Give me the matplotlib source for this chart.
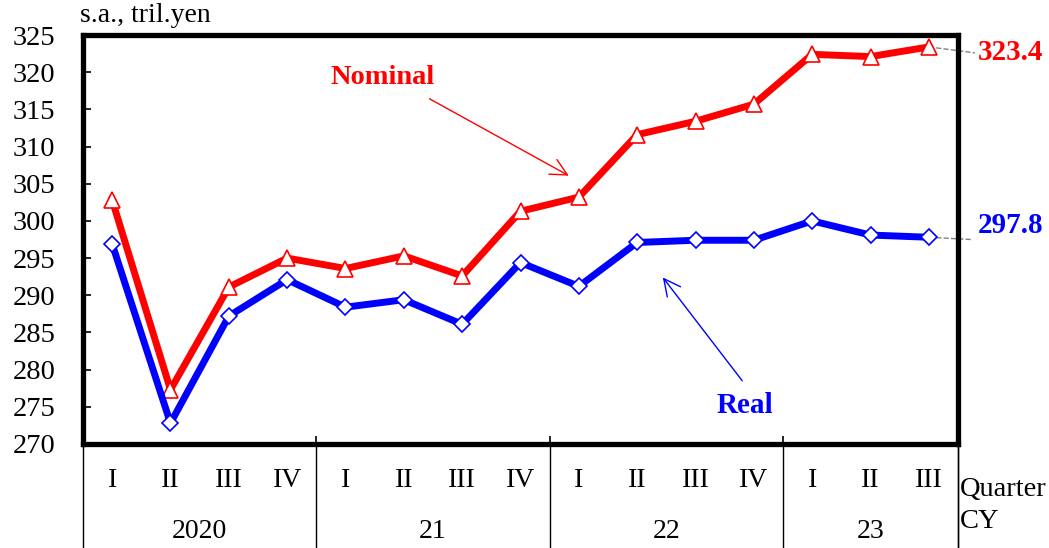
import numpy as np
import matplotlib.pyplot as plt

plt.rcParams['font.family'] = ['Liberation Serif', 'DejaVu Serif']

# Quarterly GDP, seasonally adjusted, trillion yen
quarters = ['I', 'II', 'III', 'IV', 'I', 'II', 'III', 'IV',
            'I', 'II', 'III', 'IV', 'I', 'II', 'III']
years = ['2020', '21', '22', '23']
year_lengths = [4, 4, 4, 3]
nominal = [302.8, 277.3, 291.1, 295.0, 293.6, 295.3, 292.6, 301.3,
           303.2, 311.6, 313.4, 315.7, 322.4, 322.1, 323.4]
real = [296.9, 272.8, 287.2, 292.1, 288.4, 289.4, 286.1, 294.4,
        291.2, 297.1, 297.4, 297.4, 300.0, 298.1, 297.8]


def plot_gdp():
    x = np.arange(len(quarters))
    fig = plt.figure(figsize=(10.49, 5.48), dpi=100)
    ax = fig.add_axes([0.0791, 0.1898, 0.8342, 0.7463])

    ax.plot(x, nominal, color='#ff0000', lw=5, marker='^', ms=12,
            mfc='white', mec='#ff0000', mew=1.2, zorder=3)
    ax.plot(x, real, color='#0000ff', lw=5, marker='D', ms=8.5,
            mfc='white', mec='#0000ff', mew=1.2, zorder=3)

    ax.set_xlim(-0.5, len(quarters) - 0.5)
    ax.set_ylim(270, 325)
    ax.set_yticks(np.arange(270, 326, 5))
    ax.tick_params(axis='y', direction='in', length=6, width=1.2,
                   labelsize=20.5, pad=20)
    # year boundaries as small inward ticks on the bottom
    bounds = np.cumsum(year_lengths)[:-1] - 0.5
    ax.set_xticks(bounds)
    ax.set_xticklabels([])
    ax.tick_params(axis='x', direction='in', length=6, width=1.2)
    for s in ax.spines.values():
        s.set_linewidth(3.8)

    # category table under the plot
    tr = ax.get_xaxis_transform()
    edges = np.concatenate([[-0.5], np.cumsum(year_lengths) - 0.5, [len(quarters) - 0.5]])
    for e in edges:
        ax.plot([e, e], [0, -0.26], color='black', lw=1, transform=tr,
                clip_on=False)
    for xi, q in zip(x, quarters):
        ax.text(xi, -0.09, q, transform=tr, ha='center', va='center',
                fontsize=20)
    starts = np.concatenate([[0], np.cumsum(year_lengths)[:-1]])
    for st, n, yr in zip(starts, year_lengths, years):
        ax.text(st - 0.5 + n / 2, -0.215, yr, transform=tr, ha='center',
                va='center', fontsize=20)
    ax.text(14.53, -0.112, 'Quarter', transform=tr, ha='left',
            va='center', fontsize=20.5)
    ax.text(14.53, -0.19, 'CY', transform=tr, ha='left', va='center',
            fontsize=20.5)

    ax.text(-0.55, 326.0, 's.a., tril.yen', ha='left', va='bottom',
            fontsize=20)

    # series labels with arrows
    ax.text(4.63, 319.35, 'Nominal', color='#ff0000', fontsize=20.5,
            fontweight='bold', ha='center', va='center')
    ax.annotate('', xy=(7.87, 305.9), xytext=(5.40, 316.6),
                arrowprops=dict(arrowstyle='->', color='#ff0000', lw=1,
                                mutation_scale=30))
    ax.text(10.85, 275.2, 'Real', color='#0000ff', fontsize=21,
            fontweight='bold', ha='center', va='center')
    ax.annotate('', xy=(9.41, 292.7), xytext=(10.83, 278.2),
                arrowprops=dict(arrowstyle='->', color='#0000ff', lw=1,
                                mutation_scale=30))

    # latest values at the right edge
    ax.plot([x[-1], 14.79], [nominal[-1], 322.6], color='gray', ls='--',
            lw=1, clip_on=False)
    ax.text(14.84, 322.6, f'{nominal[-1]:.1f}', color='#ff0000',
            fontsize=21, fontweight='bold', ha='left', va='center')
    ax.plot([x[-1], 14.72], [real[-1], real[-1] - 0.3], color='gray',
            ls='--', lw=1, clip_on=False)
    ax.text(14.84, 299.4, f'{real[-1]:.1f}', color='#0000ff',
            fontsize=21, fontweight='bold', ha='left', va='center')

    fig.savefig('out.png', dpi=100)
    plt.close(fig)


if __name__ == "__main__":
    plot_gdp()
